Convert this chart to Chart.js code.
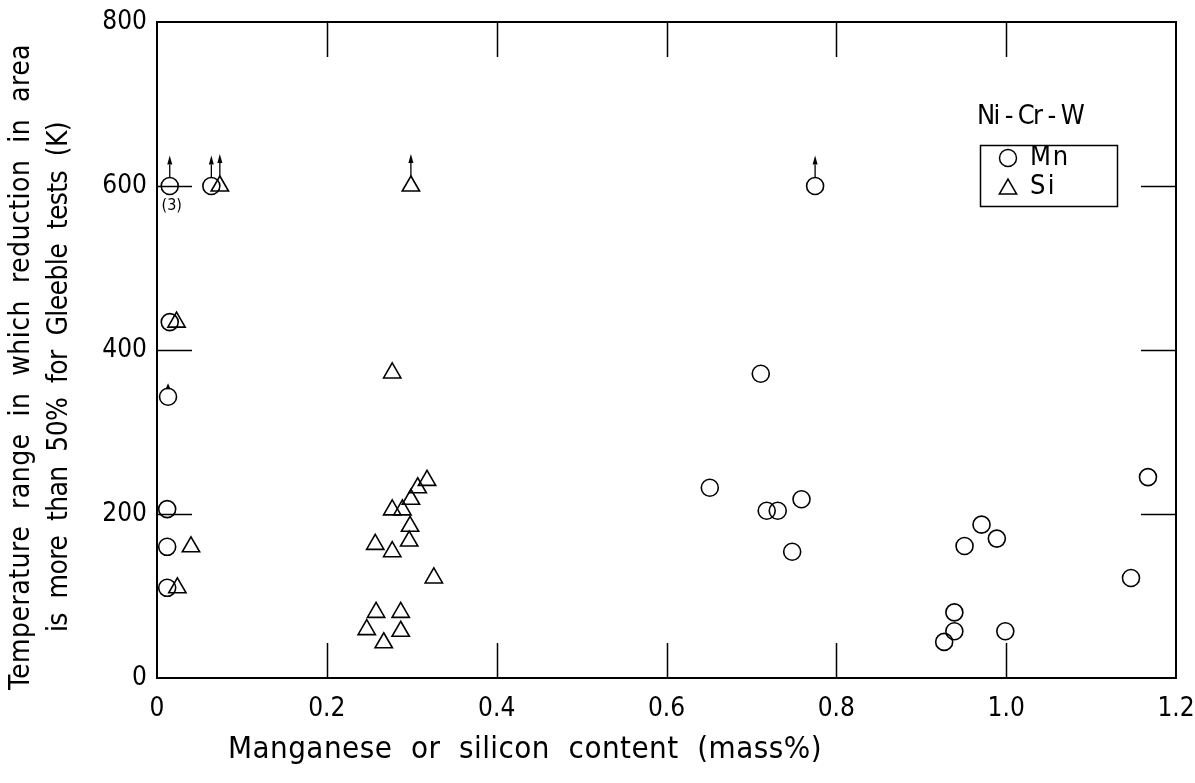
<!DOCTYPE html>
<html>
<head>
<meta charset="utf-8">
<script src="https://cdn.jsdelivr.net/npm/chart.js@4.4.0/dist/chart.umd.min.js"></script>
<style>
  html, body { margin: 0; padding: 0; background: #fff; }
  #wrap { width: 1195px; height: 783px; }
</style>
</head>
<body>
<div id="wrap"><canvas id="chart" width="1195" height="783"></canvas></div>
<script>
// Axis tick labels
const xTickLabels = ['0', '0.2', '0.4', '0.6', '0.8', '1.0', '1.2'];
const yTickLabels = ['0', '200', '400', '600', '800'];

// Mn series: content (mass%) and temperature range (K)
const mnContent = [0.015, 0.064, 0.015, 0.013, 0.012, 0.012, 0.012,
                   0.651, 0.711, 0.718, 0.731, 0.759, 0.748, 0.775,
                   0.927, 0.939, 0.939, 0.951, 0.971, 0.989, 0.999, 1.147, 1.167];
const mnRange   = [600, 600, 434, 343, 206, 160, 110,
                   232, 371, 204, 204, 218, 154, 600,
                   44, 57, 80, 161, 187, 170, 57, 122, 245];
// 'long' = range is a lower bound (arrow), 'short' = small arrow tip
const mnBound   = ['long', 'long', '', 'short', '', '', '',
                   '', '', '', '', '', '', 'long',
                   '', '', '', '', '', '', '', '', ''];

// Si series
const siContent = [0.074, 0.023, 0.040, 0.024, 0.277, 0.299,
                   0.318, 0.307, 0.299, 0.277, 0.289, 0.298, 0.297,
                   0.257, 0.277, 0.326, 0.258, 0.287, 0.247, 0.287, 0.267];
const siRange   = [600, 434, 160, 110, 372, 600,
                   241, 232, 218, 205, 205, 185, 167,
                   163, 154, 122, 80, 80, 59, 57, 43];
const siBound   = ['long', '', '', '', '', 'long',
                   '', '', '', '', '', '', '',
                   '', '', '', '', '', '', '', ''];

// Number of coincident specimens written under the first Mn point
const countNote = '(3)';

const FONT = "'DejaVu Sans Condensed', 'Liberation Sans Narrow', 'DejaVu Sans', sans-serif";
const INK = '#000';

function toPoints(xs, ys) {
  return xs.map((x, i) => ({ x: x, y: ys[i] }));
}

// Text stretched to a given length with letter spacing
function fittedText(ctx, text, x, y, length, size) {
  ctx.font = size + 'px ' + FONT;
  if ('letterSpacing' in ctx) ctx.letterSpacing = '0px';
  const w = ctx.measureText(text).width;
  const n = [...text].length;
  if ('letterSpacing' in ctx) ctx.letterSpacing = ((length - w) / n) + 'px';
  ctx.textAlign = 'left';
  ctx.textBaseline = 'middle';
  ctx.fillText(text, x, y);
  if ('letterSpacing' in ctx) ctx.letterSpacing = '0px';
}

function arrowUp(ctx, x, yBase, len, headLen, headHalf) {
  ctx.beginPath();
  ctx.moveTo(x, yBase);
  ctx.lineTo(x, yBase - len + headLen);
  ctx.stroke();
  ctx.beginPath();
  ctx.moveTo(x, yBase - len);
  ctx.lineTo(x - headHalf, yBase - len + headLen);
  ctx.lineTo(x + headHalf, yBase - len + headLen);
  ctx.closePath();
  ctx.fill();
}

function triangleMark(ctx, cx, cy, r) {
  ctx.beginPath();
  ctx.moveTo(cx, cy - r);
  ctx.lineTo(cx + r * Math.sin(2 * Math.PI / 3), cy + r / 2);
  ctx.lineTo(cx - r * Math.sin(2 * Math.PI / 3), cy + r / 2);
  ctx.closePath();
  ctx.stroke();
}

const decorations = {
  id: 'decorations',
  afterDatasetsDraw(chart) {
    const ctx = chart.ctx;
    const a = chart.chartArea;
    const xs = chart.scales.x, ys = chart.scales.y;
    ctx.save();
    ctx.strokeStyle = INK;
    ctx.fillStyle = INK;

    // frame top and right
    ctx.lineWidth = 2;
    ctx.beginPath();
    ctx.moveTo(a.left, a.top);
    ctx.lineTo(a.right, a.top);
    ctx.lineTo(a.right, a.bottom);
    ctx.stroke();

    // inward major tick marks on all four sides
    const tl = 35;
    ctx.lineWidth = 1.5;
    xs.ticks.forEach(t => {
      if (t.value <= xs.min || t.value >= xs.max) return;
      const px = Math.round(xs.getPixelForValue(t.value)) + 0.5;
      ctx.beginPath();
      ctx.moveTo(px, a.bottom); ctx.lineTo(px, a.bottom - tl);
      ctx.moveTo(px, a.top); ctx.lineTo(px, a.top + tl);
      ctx.stroke();
    });
    ys.ticks.forEach(t => {
      if (t.value <= ys.min || t.value >= ys.max) return;
      const py = Math.round(ys.getPixelForValue(t.value)) + 0.5;
      ctx.beginPath();
      ctx.moveTo(a.left, py); ctx.lineTo(a.left + tl, py);
      ctx.moveTo(a.right, py); ctx.lineTo(a.right - tl, py);
      ctx.stroke();
    });

    // arrows marking lower-bound ranges
    ctx.lineWidth = 1.3;
    const sets = [[0, mnBound, 8.5], [1, siBound, 10]];
    sets.forEach(([di, bounds, r]) => {
      const meta = chart.getDatasetMeta(di);
      meta.data.forEach((el, i) => {
        const b = bounds[i];
        if (b === 'long') {
          arrowUp(ctx, el.x, el.y - r, 22, 9, 2.5);
        } else if (b === 'short') {
          arrowUp(ctx, el.x, el.y - r + 1, 6, 6, 2.5);
        }
      });
    });

    // specimen count under first Mn point
    const p0 = chart.getDatasetMeta(0).data[0];
    ctx.font = '16px ' + FONT;
    ctx.textAlign = 'center';
    ctx.textBaseline = 'middle';
    ctx.fillText(countNote, p0.x + 2, p0.y + 20);
    ctx.restore();
  },
  afterDraw(chart) {
    const ctx = chart.ctx;
    ctx.save();
    ctx.fillStyle = INK;
    ctx.strokeStyle = INK;

    // x-axis title
    fittedText(ctx, 'Manganese  or  silicon  content  (mass%)', 228, 750, 594, 31);

    // y-axis title, two rotated lines
    ctx.save();
    ctx.translate(22, 690);
    ctx.rotate(-Math.PI / 2);
    fittedText(ctx, 'Temperature  range  in  which  reduction  in  area', 0, 0, 646, 28);
    ctx.restore();
    ctx.save();
    ctx.translate(60, 632);
    ctx.rotate(-Math.PI / 2);
    fittedText(ctx, 'is  more  than  50%  for  Gleeble  tests  (K)', 0, 0, 510, 28);
    ctx.restore();

    // legend
    fittedText(ctx, 'Ni - Cr - W', 977, 117, 106, 27);
    ctx.lineWidth = 1.5;
    ctx.strokeRect(980.5, 145.5, 137, 61);
    ctx.beginPath();
    ctx.arc(1008, 158, 8.5, 0, Math.PI * 2);
    ctx.stroke();
    triangleMark(ctx, 1008, 189, 10);
    fittedText(ctx, 'Mn', 1030, 158, 40, 27);
    fittedText(ctx, 'Si', 1030, 187, 27, 27);
    ctx.restore();
  }
};

new Chart(document.getElementById('chart'), {
  type: 'scatter',
  data: {
    datasets: [
      {
        label: 'Mn',
        data: toPoints(mnContent, mnRange),
        pointStyle: 'circle',
        pointRadius: 8.5,
        pointBorderWidth: 1.6,
        pointBorderColor: INK,
        pointBackgroundColor: 'rgba(0,0,0,0)'
      },
      {
        label: 'Si',
        data: toPoints(siContent, siRange),
        pointStyle: 'triangle',
        pointRadius: 10,
        pointBorderWidth: 1.6,
        pointBorderColor: INK,
        pointBackgroundColor: 'rgba(0,0,0,0)'
      }
    ]
  },
  options: {
    responsive: false,
    animation: false,
    events: [],
    layout: { padding: { top: 22, right: 19, bottom: 0, left: 0 } },
    plugins: {
      legend: { display: false },
      tooltip: { enabled: false },
      title: { display: false }
    },
    scales: {
      x: {
        type: 'linear',
        min: 0,
        max: 1.2,
        afterFit: s => { s.height = 105; s.paddingLeft = 0; s.paddingRight = 0; },
        ticks: {
          stepSize: 0.2,
          autoSkip: false,
          maxRotation: 0,
          padding: 16,
          color: INK,
          font: { family: FONT, size: 26 },
          callback: (v, i) => xTickLabels[i]
        },
        grid: { display: false, drawTicks: false },
        border: { display: true, color: INK, width: 2 }
      },
      y: {
        type: 'linear',
        min: 0,
        max: 800,
        afterFit: s => { s.width = 157; s.paddingTop = 0; s.paddingBottom = 0; },
        ticks: {
          stepSize: 200,
          padding: 10,
          color: INK,
          font: { family: FONT, size: 26 },
          callback: (v, i) => yTickLabels[i]
        },
        grid: { display: false, drawTicks: false },
        border: { display: true, color: INK, width: 2 }
      }
    }
  },
  plugins: [decorations]
});
</script>
</body>
</html>
